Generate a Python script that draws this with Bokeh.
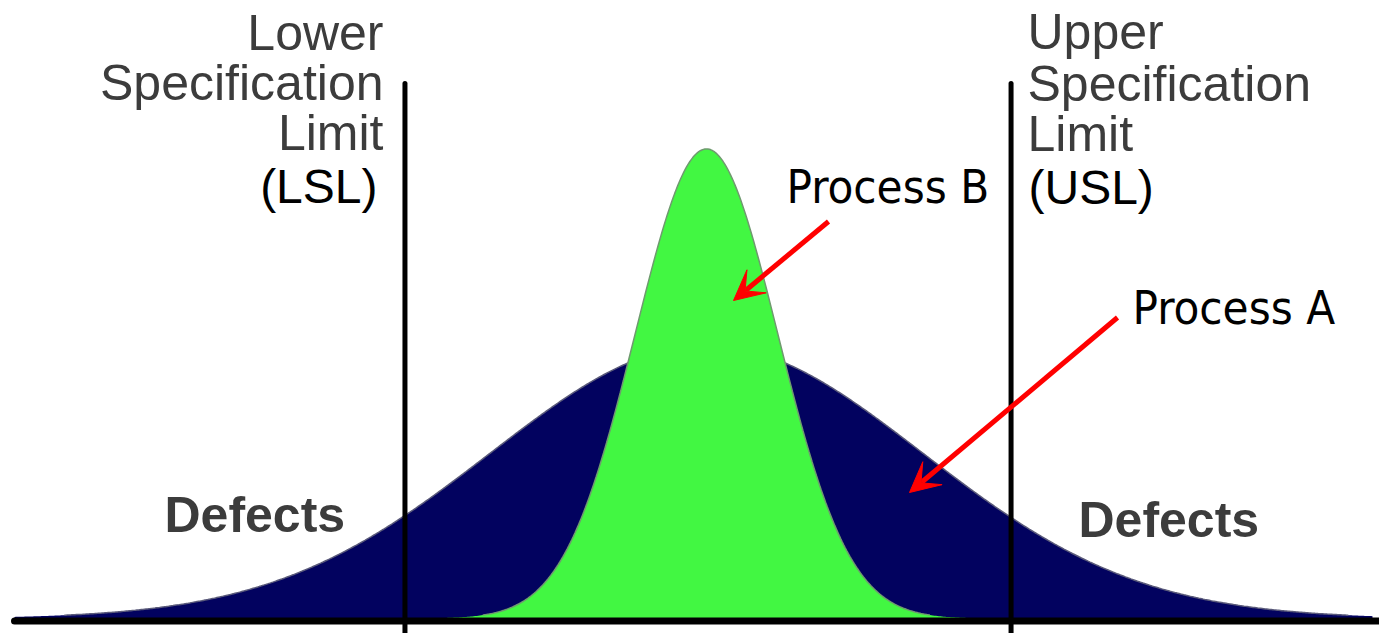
import numpy as np
from bokeh.plotting import figure
from bokeh.models import Range1d, Arrow, VeeHead
from bokeh.core.properties import value
from bokeh.embed import file_html
from bokeh.resources import INLINE

# ---- data ----
processes = ["Process A", "Process B"]
process_means = [0.0, 0.0]
process_sigmas = [1.0, 0.33]
process_peaks = [1.0, 1.72]
process_colors = ["#02025f", "#42f742"]
process_edges = ["#5a5a7a", "#6f9a6f"]

spec_names = ["LSL", "USL"]
spec_values = [-1.396, 1.410]
spec_top = 1.96

W, H = 1379, 633
TEXT_DY = 18  # baseline correction in px

# pixel -> data helpers for annotation placement
def X(px):
    return (px - 706) / 216.0

def Y(py):
    return (618 - py) / 273.0

def TY(py):
    return Y(py - TEXT_DY)

p = figure(width=W, height=H, output_backend="svg", toolbar_location=None,
           x_axis_type=None, y_axis_type=None, min_border=0,
           x_range=Range1d(X(0), X(W)), y_range=Range1d(Y(H), Y(0)))
p.outline_line_color = None
p.background_fill_color = "white"
p.border_fill_color = "white"

# curves
for name, m, s, pk, c, e in zip(processes, process_means, process_sigmas,
                                process_peaks, process_colors, process_edges):
    xs = np.linspace(X(14), X(1372), 900)
    ys = pk * np.exp(-0.5 * ((xs - m) / s) ** 2)
    p.varea(x=xs, y1=np.zeros_like(xs), y2=ys, fill_color=c)
    keep = ys > 0.012
    p.line(xs[keep], ys[keep], line_color=e, line_width=1.5)

# spec limit lines
for v in spec_values:
    p.segment(x0=[v], y0=[spec_top], x1=[v], y1=[Y(650)],
              line_color="black", line_width=5, line_cap="round")

# baseline axis
p.segment(x0=[X(14)], y0=[Y(620.5)], x1=[X(1400)], y1=[Y(620.5)],
          line_color="black", line_width=7, line_cap="round")

# arrows
p.add_layout(Arrow(end=VeeHead(size=30, fill_color="#ff0000", line_color="#ff0000", line_width=1),
                   x_start=X(828), y_start=Y(221), x_end=X(733), y_end=Y(300),
                   line_color="#ff0000", line_width=5))
p.add_layout(Arrow(end=VeeHead(size=30, fill_color="#ff0000", line_color="#ff0000", line_width=1),
                   x_start=X(1117), y_start=Y(317), x_end=X(909), y_end=Y(492),
                   line_color="#ff0000", line_width=5))

gray = "#3c3c3c"
# LSL block (right aligned)
p.text(x=[X(383)] * 3, y=[TY(50), TY(100), TY(150)],
       text=["Lower", "Specification", "Limit"], text_align="right",
       text_baseline="alphabetic", text_color=gray,
       text_font=value("Liberation Sans"), text_font_size="50px")
p.text(x=[X(377)], y=[TY(204)], text=["(LSL)"], text_align="right",
       text_baseline="alphabetic", text_color="black",
       text_font=value("Liberation Sans"), text_font_size="48px")
# USL block (left aligned)
p.text(x=[X(1027)] * 3, y=[TY(49), TY(101), TY(151)],
       text=["Upper", "Specification", "Limit"], text_align="left",
       text_baseline="alphabetic", text_color=gray,
       text_font=value("Liberation Sans"), text_font_size="50px")
p.text(x=[X(1028)], y=[TY(205)], text=["(USL)"], text_align="left",
       text_baseline="alphabetic", text_color="black",
       text_font=value("Liberation Sans"), text_font_size="48px")

# Defects
p.text(x=[X(164), X(1078)], y=[TY(532), TY(537)], text=["Defects", "Defects"],
       text_align="left", text_baseline="alphabetic", text_color=gray,
       text_font=value("Liberation Sans"), text_font_size="50px",
       text_font_style="bold")

# Process labels
p.text(x=[X(786), X(1132)], y=[TY(204), TY(325)], text=["Process B", "Process A"],
       text_align="left", text_baseline="alphabetic", text_color="black",
       text_font=value("DejaVu Sans Condensed"), text_font_size="47px")

open("out.html", "w").write(file_html(p, INLINE))
